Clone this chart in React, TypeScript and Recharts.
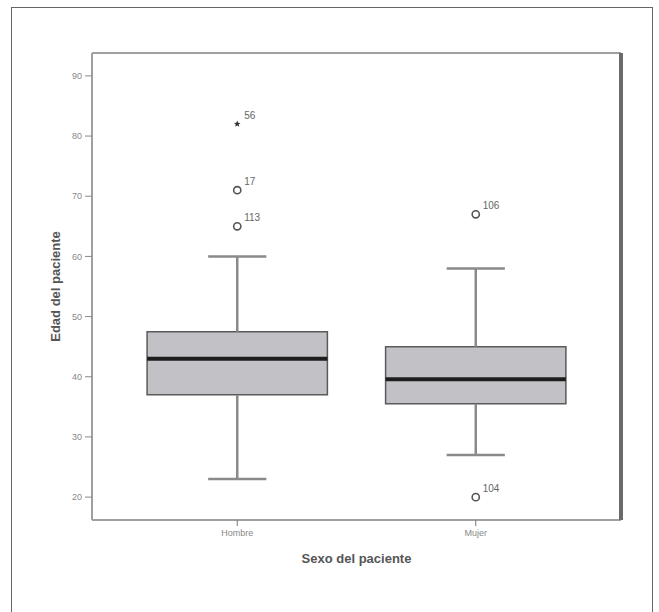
import {
  ComposedChart,
  XAxis,
  YAxis,
  Scatter,
  ReferenceArea,
  ReferenceLine,
  LabelList,
} from 'recharts';

// groups on the x axis (positions 1 and 2)
const categories = ['Hombre', 'Mujer'];
const positions = [1, 2];

// box summaries per group
const whiskerLow = [23, 27];
const q1 = [37, 35.5];
const median = [43, 39.6];
const q3 = [47.5, 45];
const whiskerHigh = [60, 58];

// outliers (circles) and extremes (stars), with case numbers
const outlierGroup = [1, 1, 2, 2];
const outlierValue = [65, 71, 67, 20];
const outlierCase = ['113', '17', '106', '104'];

const extremeGroup = [1];
const extremeValue = [82];
const extremeCase = ['56'];

const yTicks = [20, 30, 40, 50, 60, 70, 80, 90];

const BOX_HALF = 0.378;
const CAP_HALF = 0.122;
const X_DOMAIN: [number, number] = [0.391, 2.609];
const Y_DOMAIN: [number, number] = [16.2, 93.8];
const FONT = '"Liberation Sans", Arial, sans-serif';
const WHISKER = '#8a8a8a';

const outliers = outlierValue.map((y, i) => ({ x: outlierGroup[i], y, id: outlierCase[i] }));
const extremes = extremeValue.map((y, i) => ({ x: extremeGroup[i], y, id: extremeCase[i] }));

function OpenCircle(props: any) {
  const { cx, cy } = props;
  return <circle cx={cx} cy={cy} r={3.6} fill="#fff" stroke="#555" strokeWidth={1.6} />;
}

function SmallStar(props: any) {
  const { cx, cy } = props;
  const pts: string[] = [];
  for (let k = 0; k < 10; k++) {
    const r = k % 2 === 0 ? 3.4 : 1.5;
    const a = (Math.PI / 5) * k - Math.PI / 2;
    pts.push(`${cx + r * Math.cos(a)},${cy + r * Math.sin(a)}`);
  }
  return <polygon points={pts.join(' ')} fill="#333" />;
}

function CaseLabel(props: any) {
  const { x, y, width, height, value } = props;
  const cx = x + (width || 0) / 2;
  const cy = y + (height || 0) / 2;
  return (
    <text x={cx + 7} y={cy - 9} fontSize={10} fill="#666" fontFamily={FONT} dominantBaseline="central">
      {value}
    </text>
  );
}

function YTitle(props: any) {
  const { viewBox } = props;
  const x = viewBox.x + 25;
  const y = viewBox.y + viewBox.height / 2;
  return (
    <text
      x={x}
      y={y}
      transform={`rotate(-90, ${x}, ${y})`}
      textAnchor="middle"
      dominantBaseline="central"
      fontSize={13}
      fontWeight="bold"
      fill="#555"
      fontFamily={FONT}
    >
      Edad del paciente
    </text>
  );
}

function XTitle(props: any) {
  const { viewBox } = props;
  const x = viewBox.x + viewBox.width / 2;
  const y = viewBox.y + 38;
  return (
    <text x={x} y={y} textAnchor="middle" dominantBaseline="central" fontSize={13} fontWeight="bold" fill="#555" fontFamily={FONT}>
      Sexo del paciente
    </text>
  );
}

export default function App() {
  return (
    <div style={{ position: 'absolute', left: 0, top: 0, width: 659, height: 612, background: '#fff', overflow: 'hidden' }}>
      <div
        style={{
          position: 'absolute',
          left: 11,
          top: 7,
          width: 640,
          height: 640,
          border: '1px solid #666',
        }}
      />
      <div style={{ position: 'absolute', left: 0, top: 0 }}>
        <ComposedChart width={659} height={612} margin={{ top: 52, right: 37, bottom: 52, left: 30 }}>
          <XAxis
            type="number"
            dataKey="x"
            domain={X_DOMAIN}
            ticks={positions}
            tickFormatter={(v) => categories[v - 1]}
            interval={0}
            allowDataOverflow
            height={40}
            axisLine={{ stroke: '#a0a0a0', strokeWidth: 2 }}
            tickLine={{ stroke: '#777' }}
            tickSize={6}
            tickMargin={4}
            tick={{ fontSize: 9, fill: '#888', fontFamily: FONT }}
            label={<XTitle />}
          />
          <XAxis
            xAxisId="top"
            type="number"
            orientation="top"
            domain={X_DOMAIN}
            allowDataOverflow
            height={1}
            tick={false}
            tickLine={false}
            axisLine={{ stroke: '#a0a0a0', strokeWidth: 2 }}
          />
          <YAxis
            type="number"
            dataKey="y"
            domain={Y_DOMAIN}
            ticks={yTicks}
            interval={0}
            allowDataOverflow
            width={62}
            axisLine={{ stroke: '#a0a0a0', strokeWidth: 2 }}
            tickLine={{ stroke: '#888' }}
            tickSize={7}
            tickMargin={3}
            tick={{ fontSize: 9, fill: '#888', fontFamily: FONT }}
            label={<YTitle />}
          />
          <YAxis
            yAxisId="right"
            type="number"
            orientation="right"
            domain={Y_DOMAIN}
            allowDataOverflow
            width={1}
            tick={false}
            tickLine={false}
            axisLine={{ stroke: '#6a6a6a', strokeWidth: 4 }}
          />

          {/* whiskers: from box edges out to the caps */}
          {positions.map((p, i) => (
            <ReferenceLine
              key={`wl-${p}`}
              segment={[{ x: p, y: whiskerLow[i] }, { x: p, y: q1[i] }]}
              stroke={WHISKER}
              strokeWidth={2.5}
            />
          ))}
          {positions.map((p, i) => (
            <ReferenceLine
              key={`wh-${p}`}
              segment={[{ x: p, y: q3[i] }, { x: p, y: whiskerHigh[i] }]}
              stroke={WHISKER}
              strokeWidth={2.5}
            />
          ))}
          {positions.map((p, i) => (
            <ReferenceLine
              key={`cl-${p}`}
              segment={[{ x: p - CAP_HALF, y: whiskerLow[i] }, { x: p + CAP_HALF, y: whiskerLow[i] }]}
              stroke={WHISKER}
              strokeWidth={2.5}
            />
          ))}
          {positions.map((p, i) => (
            <ReferenceLine
              key={`ch-${p}`}
              segment={[{ x: p - CAP_HALF, y: whiskerHigh[i] }, { x: p + CAP_HALF, y: whiskerHigh[i] }]}
              stroke={WHISKER}
              strokeWidth={2.5}
            />
          ))}
          {positions.map((p, i) => (
            <ReferenceArea
              key={`box-${p}`}
              x1={p - BOX_HALF}
              x2={p + BOX_HALF}
              y1={q1[i]}
              y2={q3[i]}
              fill="#c2c2c6"
              fillOpacity={1}
              stroke="#5a5a5a"
              strokeWidth={1.5}
            />
          ))}
          {positions.map((p, i) => (
            <ReferenceLine
              key={`med-${p}`}
              segment={[{ x: p - BOX_HALF, y: median[i] }, { x: p + BOX_HALF, y: median[i] }]}
              stroke="#1e1e1e"
              strokeWidth={4}
            />
          ))}

          <Scatter data={outliers} shape={<OpenCircle />} isAnimationActive={false}>
            <LabelList dataKey="id" content={<CaseLabel />} />
          </Scatter>
          <Scatter data={extremes} shape={<SmallStar />} isAnimationActive={false}>
            <LabelList dataKey="id" content={<CaseLabel />} />
          </Scatter>
        </ComposedChart>
      </div>
    </div>
  );
}
